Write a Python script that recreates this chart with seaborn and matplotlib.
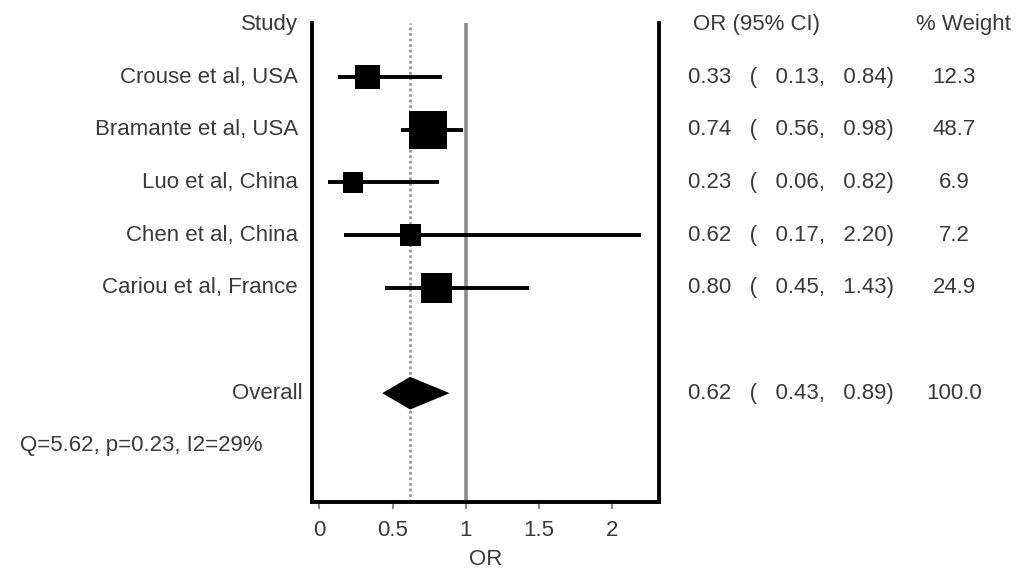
import numpy as np
import pandas as pd
import matplotlib
matplotlib.use("Agg")
import matplotlib.pyplot as plt
import matplotlib.transforms as mtransforms
import seaborn as sns

# ---- data ----
studies = ["Crouse et al, USA", "Bramante et al, USA", "Luo et al, China",
           "Chen et al, China", "Cariou et al, France"]
or_est = [0.33, 0.74, 0.23, 0.62, 0.80]
ci_low = [0.13, 0.56, 0.06, 0.17, 0.45]
ci_high = [0.84, 0.98, 0.82, 2.20, 1.43]
weights = [12.3, 48.7, 6.9, 7.2, 24.9]
overall_label = "Overall"
overall_or = 0.62
overall_low = 0.43
overall_high = 0.89
overall_weight = 100.0
het_text = "Q=5.62, p=0.23, I2=29%"
xticks = [0, 0.5, 1, 1.5, 2]
xtick_labels = ["0", "0.5", "1", "1.5", "2"]

# ---- styling ----
sns.set_style("white")
plt.rcParams["font.family"] = ["Liberation Sans", "DejaVu Sans"]
TXT = "#3a3a3a"
FS = 16
W, H, DPI = 1025, 571, 100

fig = plt.figure(figsize=(W / DPI, H / DPI), dpi=DPI)
ax_l, ax_r, ax_t, ax_b = 311.7, 659.0, 23.0, 501.7
ax = fig.add_axes([ax_l / W, 1 - ax_b / H, (ax_r - ax_l) / W, (ax_b - ax_t) / H])

rows = np.arange(1, len(studies) + 1)
overall_row = len(studies) + 2
het_row = overall_row + 1

df = pd.DataFrame({"study": studies, "OR": or_est, "lo": ci_low,
                   "hi": ci_high, "w": weights, "row": rows})
# square side in pixels, growing with sqrt(weight)
side_px = 10.7 + 3.9 * np.sqrt(df["w"].to_numpy())
df["s"] = (side_px * 72 / DPI) ** 2

# reference lines
ax.axvline(1, color="#8c8c8c", lw=2.6, zorder=1)
ax.axvline(overall_or, color="#9a9a9a", lw=2.0, ls=(0, (1, 1)), zorder=1)

# CIs
ax.hlines(df["row"], df["lo"], df["hi"], color="black", lw=2.8, zorder=2)
# squares
sns.scatterplot(data=df, x="OR", y="row", size="s", sizes=(df["s"].min(), df["s"].max()),
                size_norm=(df["s"].min(), df["s"].max()),
                marker="s", color="black", linewidth=0, legend=False, ax=ax, zorder=3)

# overall diamond
hh = 0.31
ax.fill([overall_low, overall_or, overall_high, overall_or],
        [overall_row, overall_row - hh, overall_row, overall_row + hh],
        color="black", lw=0, zorder=3)

ax.set_xlim(-0.052, 2.32)
ax.set_ylim(9.06, -0.025)
ax.set_yticks([])
ax.set_xticks(xticks)
ax.set_xticklabels(xtick_labels)
ax.tick_params(axis="x", length=5, width=1.5, color="#888888", pad=8,
               labelsize=FS, labelcolor=TXT, bottom=True)
ax.set_xlabel("OR", fontsize=FS, color=TXT, labelpad=6)
ax.set_ylabel("")
for sp in ["left", "right", "bottom"]:
    ax.spines[sp].set_visible(True)
    ax.spines[sp].set_color("black")
    ax.spines[sp].set_linewidth(2.8)
ax.spines["top"].set_visible(False)

# text columns
tr = mtransforms.blended_transform_factory(fig.transFigure, ax.transData)
def fx(px):
    return px / W

def put(xpx, row, s, ha):
    ax.text(fx(xpx), row, s, transform=tr, ha=ha, va="center", fontsize=FS,
            color=TXT, clip_on=False)

put(298, 0, "Study", "right")
put(693, 0, "OR (95% CI)", "left")
put(963, 0, "% Weight", "center")

for r, name, o, lo, hi, w in zip(rows, studies, or_est, ci_low, ci_high, weights):
    put(298, r, name, "right")
    put(688, r, f"{o:.2f}   (   {lo:.2f},   {hi:.2f})", "left")
    put(954, r, f"{w:.1f}", "center")

put(303, overall_row, overall_label, "right")
put(688, overall_row, f"{overall_or:.2f}   (   {overall_low:.2f},   {overall_high:.2f})", "left")
put(954, overall_row, f"{overall_weight:.1f}", "center")
put(20, het_row, het_text, "left")

fig.savefig("out.png", dpi=DPI)
